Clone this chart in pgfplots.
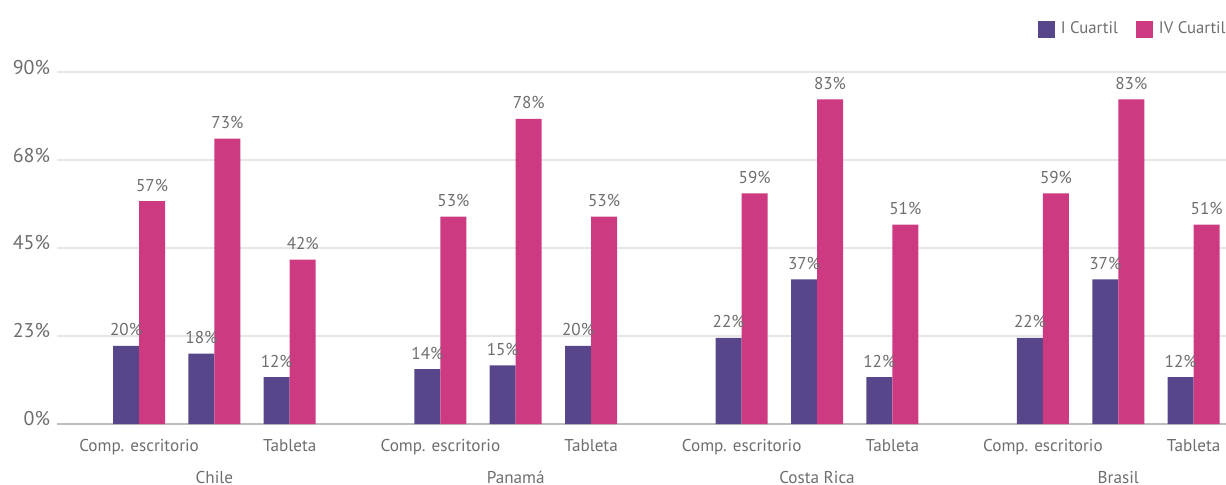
\documentclass[border=0pt]{standalone}
\usepackage{pgfplots}
\pgfplotsset{compat=1.18}
\usepackage{pgfplotstable}
\usepackage{fontspec}
\setmainfont{PT Sans}
\definecolor{cI}{HTML}{58468A}
\definecolor{cIV}{HTML}{CE3A82}
\definecolor{txt}{HTML}{6E6E6E}
\definecolor{gridc}{HTML}{E6E6E6}
\definecolor{axl}{HTML}{BDBDBD}

\pgfplotstableread{
x I IV
1 20 57
2 18 73
3 12 42
5 14 53
6 15 78
7 20 53
9 22 59
10 37 83
11 12 51
13 22 59
14 37 83
15 12 51
}\datatable

\begin{document}
\begin{tikzpicture}
\begin{axis}[
  at={(0,0)}, anchor=south west,
  scale only axis, width=584.5bp, height=176bp,
  xmin=-0.09, xmax=15.43, ymin=0, ymax=90,
  ybar=0pt, bar width=13bp,
  clip=false,
  /pgf/number format/assume math mode=true,
  axis x line*=bottom, axis y line*=left,
  x axis line style={draw=axl, line width=0.8bp, -},
  y axis line style={draw=none},
  major tick length=0pt,
  ytick={0,22.5,45,67.5,90},
  yticklabels={0\%,23\%,45\%,68\%,90\%},
  xtick={1,3,5,7,9,11,13,15},
  xticklabels={Comp. escritorio,Tableta,Comp. escritorio,Tableta,Comp. escritorio,Tableta,Comp. escritorio,Tableta},
  ymajorgrids, grid style={draw=gridc, line width=0.6bp},
  y tick label style={font=\fontsize{10}{12}\selectfont, text=txt, yshift=2.5bp},
  x tick label style={font=\fontsize{8.6}{10}\selectfont, text=txt, anchor=base, yshift=-13.5bp},
  nodes near coords={\pgfmathprintnumber{\pgfplotspointmeta}\%},
  every node near coord/.append style={font=\fontsize{8.6}{10}\selectfont, text=txt, anchor=base, yshift=5bp},
  legend columns=2,
  legend image code/.code={\fill[#1] (0bp,-4.25bp) rectangle (8.5bp,4.25bp);},
  legend style={at={(rel axis cs:1,1)}, anchor=east, yshift=21.5bp, xshift=1bp,
    draw=none, fill=none, inner sep=0pt, font=\fontsize{8.4}{10}\selectfont, text=txt,
    nodes={inner sep=1bp},
    /tikz/every odd column/.append style={column sep=2bp},
    /tikz/every even column/.append style={column sep=8bp}},
]
\addplot[fill=cI, draw=none] table[x=x, y=I] {\datatable};
\addplot[fill=cIV, draw=none] table[x=x, y=IV] {\datatable};
\legend{I Cuartil, IV Cuartil}
\node[font=\fontsize{8.6}{10}\selectfont, text=txt, anchor=base, yshift=-29.5bp] at (axis cs:2,0) {Chile};
\node[font=\fontsize{8.6}{10}\selectfont, text=txt, anchor=base, yshift=-29.5bp] at (axis cs:6,0) {Panamá};
\node[font=\fontsize{8.6}{10}\selectfont, text=txt, anchor=base, yshift=-29.5bp] at (axis cs:10,0) {Costa Rica};
\node[font=\fontsize{8.6}{10}\selectfont, text=txt, anchor=base, yshift=-29.5bp] at (axis cs:14,0) {Brasil};
\end{axis}
\pgfresetboundingbox
\path[use as bounding box] (-28.5bp,-30.5bp) rectangle (584.5bp,212bp);
\end{tikzpicture}
\end{document}
